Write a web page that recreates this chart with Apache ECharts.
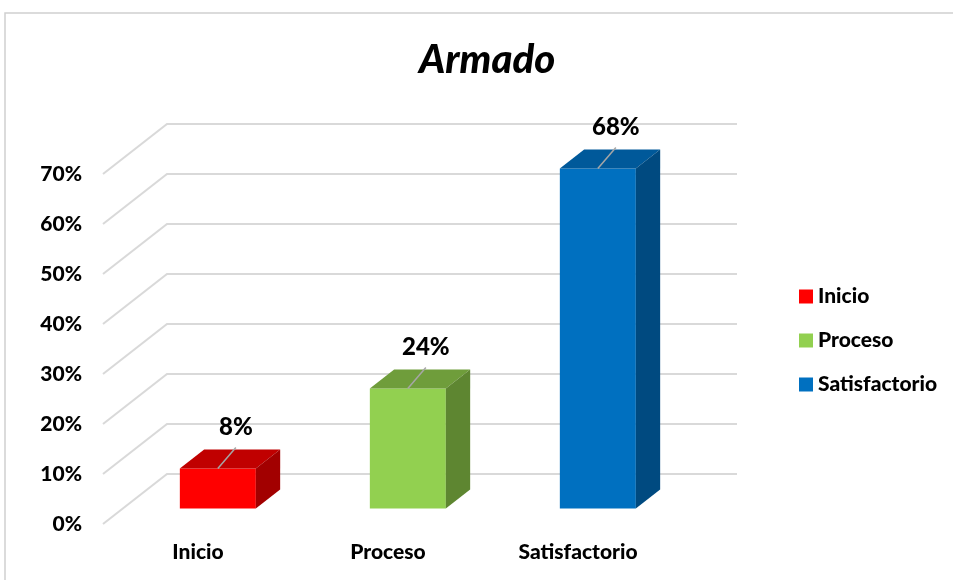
<!DOCTYPE html>
<html>
<head>
<meta charset="utf-8">
<script src="https://cdn.jsdelivr.net/npm/echarts@6/dist/echarts.min.js"></script>
<style>
  html, body { margin: 0; padding: 0; background: #fff; }
  #chart { width: 953px; height: 580px; }
</style>
</head>
<body>
<div id="chart"></div>
<script>
const categories = ['Inicio', 'Proceso', 'Satisfactorio'];
const values = [0.08, 0.24, 0.68];
const valueLabels = ['8%', '24%', '68%'];
const yMax = 0.7;
const yStep = 0.1;
const yTicks = [0, 0.1, 0.2, 0.3, 0.4, 0.5, 0.6, 0.7];
const frontColors = ['#FF0000', '#92D050', '#0070C0'];
const topColors = ['#C00000', '#6F9D3B', '#00599A'];
const sideColors = ['#A20000', '#5E8631', '#004A80'];

const FONT = 'Lato, "Open Sans", sans-serif';
const DEPTH_X = 64, DEPTH_Y = 50;   // 3D depth of the plot
const BAR_DEPTH = 0.38;             // fraction of depth used by a bar
const BAR_WIDTH = 0.4;              // fraction of band width

const chart = echarts.init(document.getElementById('chart'), null, { renderer: 'canvas' });

function renderGrid(params, api) {
  const cs = params.coordSys;
  const p = api.coord([0, api.value(1)]);
  const x0 = cs.x, y = p[1];
  return {
    type: 'polyline',
    shape: { points: [[x0, y], [x0 + DEPTH_X, y - DEPTH_Y], [x0 + cs.width + DEPTH_X, y - DEPTH_Y]] },
    style: { stroke: '#D9D9D9', lineWidth: 2, fill: null }
  };
}

function makeBarRenderer(idx) {
  return function (params, api) {
    const cat = api.value(0), v = api.value(1);
    const base = api.coord([cat, 0]);
    const top = api.coord([cat, v]);
    const band = api.size([1, 0])[0];
    const off = (1 - BAR_DEPTH) / 2;
    const ox = off * DEPTH_X, oy = -off * DEPTH_Y;
    const dx = BAR_DEPTH * DEPTH_X, dy = -BAR_DEPTH * DEPTH_Y;
    const w = band * BAR_WIDTH;
    const xc = base[0] + ox;
    const x0 = xc - w / 2, x1 = xc + w / 2;
    const yb = base[1] + oy, yt = top[1] + oy;
    return {
      type: 'group',
      children: [
        { type: 'polygon', shape: { points: [[x0, yt], [x1, yt], [x1, yb], [x0, yb]] },
          style: { fill: frontColors[idx] } },
        { type: 'polygon', shape: { points: [[x0, yt], [x0 + dx, yt + dy], [x1 + dx, yt + dy], [x1, yt]] },
          style: { fill: topColors[idx] } },
        { type: 'polygon', shape: { points: [[x1, yt], [x1 + dx, yt + dy], [x1 + dx, yb + dy], [x1, yb]] },
          style: { fill: sideColors[idx] } },
        { type: 'line', shape: { x1: xc, y1: yt, x2: xc + 18, y2: yt - 21 },
          style: { stroke: '#A6A6A6', lineWidth: 1.5 } },
        { type: 'text', x: xc + 18, y: yt - 41,
          style: { text: valueLabels[idx], fill: '#000', font: '900 24px ' + FONT, align: 'center', verticalAlign: 'middle' } }
      ]
    };
  };
}

const series = [{
  type: 'custom',
  name: 'grid',
  renderItem: renderGrid,
  data: yTicks.map(t => [0, t]),
  silent: true,
  z: 1
}];
categories.forEach((c, i) => {
  series.push({
    type: 'custom',
    name: c,
    renderItem: makeBarRenderer(i),
    itemStyle: { color: frontColors[i] },
    data: [[i, values[i]]],
    z: 5
  });
});

const W = 900;
chart.setOption({
  backgroundColor: '#fff',
  animation: false,
  title: {
    text: 'Armado',
    left: 414,
    top: 35,
    textStyle: { fontFamily: FONT, fontSize: 40, fontWeight: W, fontStyle: 'italic', color: '#000' }
  },
  legend: {
    orient: 'vertical',
    left: 794,
    top: 281,
    data: categories,
    icon: 'rect',
    itemWidth: 14,
    itemHeight: 14,
    itemGap: 23,
    textStyle: { fontFamily: FONT, fontSize: 21, fontWeight: W, color: '#000', lineHeight: 21 }
  },
  graphic: [{
    type: 'rect',
    shape: { x: 5, y: 13, width: 1000, height: 700 },
    style: { fill: null, stroke: '#D0D0D0', lineWidth: 1.5 },
    silent: true
  }],
  grid: { left: 103, top: 174, width: 570, height: 350, outerBoundsMode: 'none', containLabel: false },
  xAxis: {
    type: 'category',
    data: categories,
    axisLine: { show: false },
    axisTick: { show: false },
    axisLabel: { margin: 18, fontFamily: FONT, fontSize: 21, fontWeight: W, color: '#000' }
  },
  yAxis: {
    type: 'value',
    min: 0,
    max: yMax,
    interval: yStep,
    axisLine: { show: false },
    axisTick: { show: false },
    splitLine: { show: false },
    axisLabel: {
      margin: 21, fontFamily: FONT, fontSize: 21, fontWeight: W, color: '#000',
      formatter: v => Math.round(v * 100) + '%'
    }
  },
  series: series
});
</script>
</body>
</html>
